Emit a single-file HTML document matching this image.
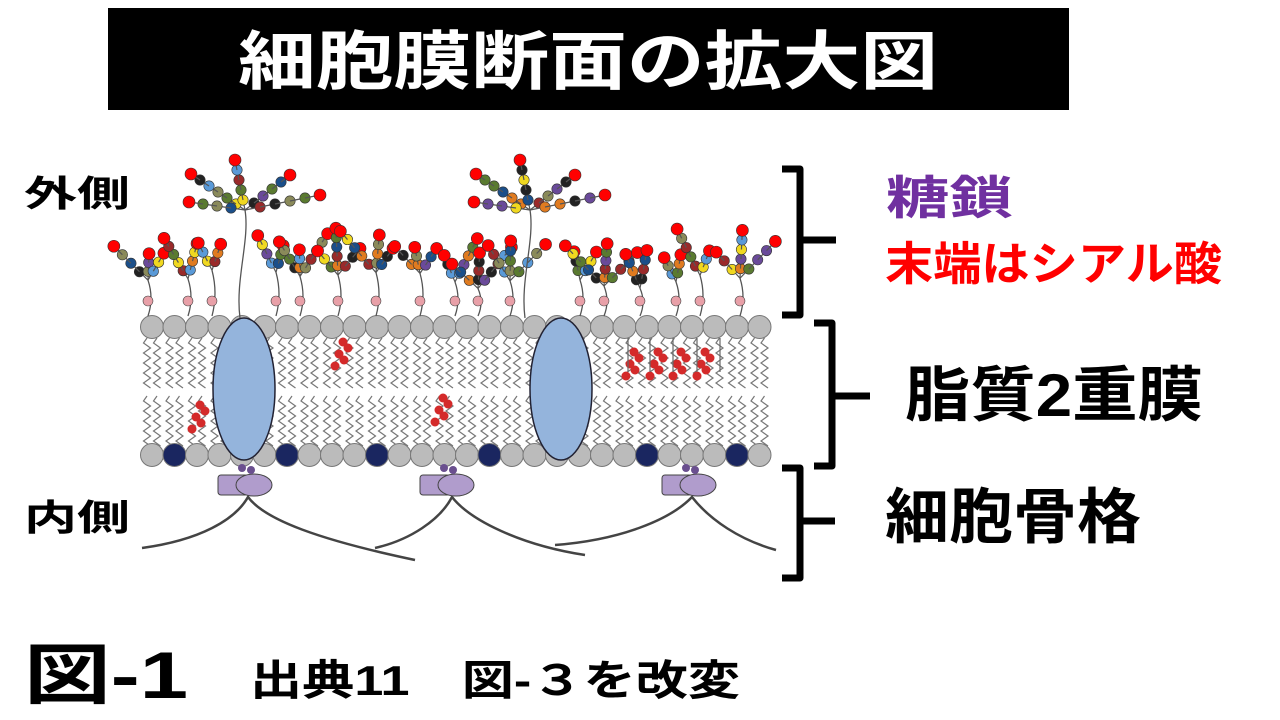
<!DOCTYPE html>
<html><head><meta charset="utf-8"><style>
html,body{margin:0;padding:0;background:#fff;width:1280px;height:720px;overflow:hidden}
</style></head><body>
<svg id="s" width="1280" height="720" viewBox="0 0 1280 720" xmlns="http://www.w3.org/2000/svg" style="font-family:'Liberation Sans','Noto Sans CJK JP',sans-serif;font-weight:bold">
<rect x="108" y="8" width="961" height="102" fill="#000"/>
<text x="588" y="84" fill="#fff" font-size="64" text-anchor="middle" textLength="700" lengthAdjust="spacingAndGlyphs">細胞膜断面の拡大図</text>
<text x="24" y="206" font-size="36" textLength="106" lengthAdjust="spacingAndGlyphs">外側</text>
<text x="24" y="530" font-size="36" textLength="106" lengthAdjust="spacingAndGlyphs">内側</text>
<text x="886" y="214" font-size="46" fill="#7030A0" textLength="127" lengthAdjust="spacingAndGlyphs">糖鎖</text>
<text x="885" y="280" font-size="46" fill="#f00" textLength="337" lengthAdjust="spacingAndGlyphs">末端はシアル酸</text>
<text x="905" y="416" font-size="60" textLength="298" lengthAdjust="spacingAndGlyphs">脂質2重膜</text>
<text x="885" y="538" font-size="60" textLength="256" lengthAdjust="spacingAndGlyphs">細胞骨格</text>
<text x="24" y="698" font-size="66" textLength="164" lengthAdjust="spacingAndGlyphs">図-1</text>
<text x="250" y="695" font-size="42" textLength="490" lengthAdjust="spacingAndGlyphs">出典11　図-３を改変</text>
<g fill="none" stroke="#000" stroke-width="7" stroke-linejoin="round">
<path d="M782,169 H800 V240 H836 M800,240 V315 H782"/>
<path d="M814,323 H832 V396 H870 M832,396 V466 H814"/>
<path d="M782,468 H800 V521 H835 M800,521 V578 H782"/>
</g>
<g id="mem"></g>
</svg>
<script>
(function(){
var g=document.getElementById('mem'),h='';
var seed=7;function r(){seed=(seed*9301+49297)%233280;return seed/233280;}
for(var x=152;x<=772;x+=22.5){
 [[338,392],[396,446]].forEach(function(p){
  for(var k=0;k<2;k++){var xx=x-5+k*10,d='M'+xx+','+p[0];for(var y=p[0]+5;y<=p[1];y+=5){d+=' L'+(xx+(((y/5)|0)%2?3.5:-3.5))+','+y;}
  h+='<path d="'+d+'" stroke="#777" stroke-width="1.2" fill="none"/>';}
 });
}
var i=0;
for(var x=152;x<=772;x+=22.5,i++){
 h+='<circle cx="'+x+'" cy="327" r="11.5" fill="#bbb" stroke="#777" stroke-width="1"/>';
 var navy=[1,6,10,15,22,26].indexOf(i)>=0;
 h+='<circle cx="'+x+'" cy="455" r="11.5" fill="'+(navy?'#1a2660':'#bbb')+'" stroke="#777" stroke-width="1"/>';
}
function chol(x,y){for(var k=0;k<5;k++)h+='<circle cx="'+(x+(k%2?5:-2)-k*2)+'" cy="'+(y+k*6)+'" r="4.5" fill="#d42a2a"/>';}
chol(345,342);chol(202,405);chol(445,398);[636,660,683,707].forEach(function(x){chol(x,352);});
[628,650,673,697,720].forEach(function(x){h+='<path d="M'+x+',338 V372" stroke="#666" stroke-width="1.2"/>';});
[244,561].forEach(function(x){h+='<ellipse cx="'+x+'" cy="389" rx="31" ry="71" fill="#94b4dc" stroke="#223" stroke-width="1.5"/>';});
h+='<g fill="none" stroke="#444" stroke-width="2.5"><path d="M142,548 C200,540 235,520 248,497 C265,520 320,540 415,560"/><path d="M375,548 C410,540 440,520 452,497 C470,520 520,545 585,555"/><path d="M555,545 C620,540 670,520 692,497 C710,520 740,540 776,550"/></g>';
[246,448,690].forEach(function(x){
 h+='<rect x="'+(x-28)+'" y="475" width="30" height="20" rx="3" fill="#b09ccc" stroke="#444"/><ellipse cx="'+(x+8)+'" cy="485" rx="18" ry="11" fill="#b09ccc" stroke="#444"/>';
 h+='<circle cx="'+(x-4)+'" cy="468" r="4" fill="#6a4f8f"/><circle cx="'+(x+5)+'" cy="470" r="4" fill="#6a4f8f"/>';
});
var cols=['#1b4f8a','#f0d820','#e07b20','#5a7a30','#222','#6a4a9a','#5a9ad8','#8a8a5a','#9a2a2a'];
function chain(x,y,dx,dy,n){var px=x,py=y;for(var k=0;k<n;k++){px+=dx;py+=dy;
 h+='<line x1="'+(px-dx)+'" y1="'+(py-dy)+'" x2="'+px+'" y2="'+py+'" stroke="#555" stroke-width="1.2"/>';
 h+='<circle cx="'+px+'" cy="'+py+'" r="'+(k==n-1?6:5.2)+'" fill="'+(k==n-1?'#f00':cols[(r()*cols.length)|0])+'" stroke="#333" stroke-width="0.6"/>';}
}
function tree(x,baseY,topY){
 h+='<path d="M'+x+','+baseY+' Q'+(x+6)+','+((baseY+topY)/2)+' '+x+','+topY+'" stroke="#555" stroke-width="1.3" fill="none"/>';
 h+='<circle cx="'+x+'" cy="'+(baseY-15)+'" r="5" fill="#e8a0a8" stroke="#444" stroke-width="0.6"/>';
 var nb=2+(r()*2|0);
 for(var b=0;b<nb;b++){var dx=(b-(nb-1)/2)*7+(r()-0.5)*4;chain(x,topY,dx,-8-r()*2,3+(r()*3|0));}
}
var bases=[148,188,212,276,300,338,376,420,455,478,510,580,604,640,676,700,740];
bases.forEach(function(x){tree(x,316,290-r()*20);});
function tall(x){h+='<path d="M'+x+',318 C'+(x-5)+',280 '+(x+10)+',240 '+(x+5)+',210" stroke="#555" stroke-width="1.3" fill="none"/>';
 chain(x+5,210,-9,-6,6);chain(x+5,210,9,-7,5);chain(x+5,210,-2,-10,5);chain(x+5,210,15,-3,5);chain(x+5,210,-14,-2,4);}
tall(240);tall(525);
g.innerHTML=h;
})();
</script>
</body></html>
